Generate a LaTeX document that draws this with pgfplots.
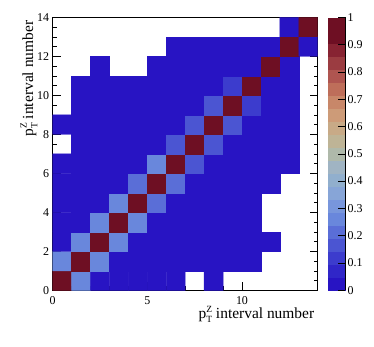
\documentclass[border=0pt]{standalone}
\usepackage{pgfplots}
\pgfplotsset{compat=1.18}
\usepackage{fontspec}
\setmainfont{Liberation Serif}
\newcommand{\ptz}{p\rlap{\raisebox{6.3bp}{\fontsize{9.5}{10}\selectfont Z}}\raisebox{-4.3bp}{\fontsize{9.5}{10}\selectfont T}}
\pgfplotsset{
  colormap={roottemp}{
    rgb255=(40,20,195) rgb255=(48,38,200) rgb255=(60,60,205) rgb255=(75,85,210)
    rgb255=(90,110,215) rgb255=(105,135,220) rgb255=(120,150,220) rgb255=(135,165,215)
    rgb255=(145,175,205) rgb255=(160,180,195) rgb255=(175,185,170) rgb255=(190,180,150)
    rgb255=(200,170,135) rgb255=(205,155,120) rgb255=(200,135,105) rgb255=(190,110,90)
    rgb255=(175,85,80) rgb255=(155,60,65) rgb255=(135,35,50) rgb255=(110,15,35)
    rgb255=(110,15,35)
  }
}
\begin{document}
\begin{tikzpicture}
\path[use as bounding box] (-52.7bp,-56bp) rectangle (321.3bp,290.3bp);
\begin{axis}[
  scale only axis, width=265bp, height=273bp,
  xmin=0, xmax=14, ymin=0, ymax=14,
  colormap name=roottemp, colormap access=piecewise constant,
  point meta min=0, point meta max=1,
  xtick={0,5,10}, minor x tick num=4,
  ytick={0,2,4,6,8,10,12,14}, minor y tick num=3,
  tick align=inside, xtick pos=left, ytick pos=both,
  major tick length=8bp, minor tick length=4bp,
  tick style={black, line width=0.5bp},
  axis line style={line width=0.7bp},
  /pgf/number format/assume math mode=true,
  tick label style={font=\fontsize{12}{14}\selectfont},
  xticklabel style={yshift=-2.5bp},
  label style={font=\fontsize{15.5}{18}\selectfont},
  xlabel={\ptz{} interval number},
  ylabel={\ptz{} interval number},
  xlabel style={at={(rel axis cs:1,-0.1037)}, anchor=base east},
  ylabel style={at={(rel axis cs:-0.0743,1)}, anchor=base east},
  colorbar,
  colorbar style={
    at={(parent axis.north east)}, anchor=north west, xshift=1.6bp,
    scale only axis, width=17.4bp, height=273bp,
    ymin=0, ymax=1,
    ytick={0,0.1,0.2,0.3,0.4,0.5,0.6,0.7,0.8,0.9,1},
    yticklabels={0,0.1,0.2,0.3,0.4,0.5,0.6,0.7,0.8,0.9,1},
    ytick pos=right, yticklabel pos=right, tick align=inside,
    major tick length=7bp,
    axis x line=none, axis y line*=right, axis line style={-},
    tick label style={font=\fontsize{12}{14}\selectfont},
    yticklabel style={xshift=-1bp},
  },
]
\addplot[matrix plot*, point meta=explicit, mesh/cols=14, unbounded coords=jump]
table[meta=c, row sep=\\] {
x y c\\
0.5 0.5 0.98\\ 1.5 0.5 0.27\\ 2.5 0.5 0.01\\ 3.5 0.5 0.01\\ 4.5 0.5 0.01\\ 5.5 0.5 0.01\\ 6.5 0.5 0.01\\ 7.5 0.5 nan\\ 8.5 0.5 0.01\\ 9.5 0.5 nan\\ 10.5 0.5 nan\\ 11.5 0.5 nan\\ 12.5 0.5 nan\\ 13.5 0.5 nan\\
0.5 1.5 0.27\\ 1.5 1.5 0.98\\ 2.5 1.5 0.27\\ 3.5 1.5 0.01\\ 4.5 1.5 0.01\\ 5.5 1.5 0.01\\ 6.5 1.5 0.01\\ 7.5 1.5 0.01\\ 8.5 1.5 0.01\\ 9.5 1.5 0.01\\ 10.5 1.5 0.01\\ 11.5 1.5 nan\\ 12.5 1.5 nan\\ 13.5 1.5 nan\\
0.5 2.5 0.01\\ 1.5 2.5 0.27\\ 2.5 2.5 0.98\\ 3.5 2.5 0.26\\ 4.5 2.5 0.01\\ 5.5 2.5 0.01\\ 6.5 2.5 0.01\\ 7.5 2.5 0.01\\ 8.5 2.5 0.01\\ 9.5 2.5 0.01\\ 10.5 2.5 0.01\\ 11.5 2.5 0.01\\ 12.5 2.5 nan\\ 13.5 2.5 nan\\
0.5 3.5 0.01\\ 1.5 3.5 0.01\\ 2.5 3.5 0.26\\ 3.5 3.5 0.98\\ 4.5 3.5 0.26\\ 5.5 3.5 0.01\\ 6.5 3.5 0.01\\ 7.5 3.5 0.01\\ 8.5 3.5 0.01\\ 9.5 3.5 0.01\\ 10.5 3.5 0.01\\ 11.5 3.5 nan\\ 12.5 3.5 nan\\ 13.5 3.5 nan\\
0.5 4.5 0.01\\ 1.5 4.5 0.01\\ 2.5 4.5 0.01\\ 3.5 4.5 0.26\\ 4.5 4.5 0.98\\ 5.5 4.5 0.21\\ 6.5 4.5 0.01\\ 7.5 4.5 0.01\\ 8.5 4.5 0.01\\ 9.5 4.5 0.01\\ 10.5 4.5 0.01\\ 11.5 4.5 nan\\ 12.5 4.5 nan\\ 13.5 4.5 nan\\
0.5 5.5 0.01\\ 1.5 5.5 0.01\\ 2.5 5.5 0.01\\ 3.5 5.5 0.01\\ 4.5 5.5 0.22\\ 5.5 5.5 0.98\\ 6.5 5.5 0.21\\ 7.5 5.5 0.01\\ 8.5 5.5 0.01\\ 9.5 5.5 0.01\\ 10.5 5.5 0.01\\ 11.5 5.5 0.01\\ 12.5 5.5 nan\\ 13.5 5.5 nan\\
0.5 6.5 0.01\\ 1.5 6.5 0.01\\ 2.5 6.5 0.01\\ 3.5 6.5 0.01\\ 4.5 6.5 0.01\\ 5.5 6.5 0.24\\ 6.5 6.5 0.98\\ 7.5 6.5 0.17\\ 8.5 6.5 0.01\\ 9.5 6.5 0.01\\ 10.5 6.5 0.01\\ 11.5 6.5 0.01\\ 12.5 6.5 0.01\\ 13.5 6.5 nan\\
0.5 7.5 nan\\ 1.5 7.5 0.01\\ 2.5 7.5 0.01\\ 3.5 7.5 0.01\\ 4.5 7.5 0.01\\ 5.5 7.5 0.01\\ 6.5 7.5 0.17\\ 7.5 7.5 0.98\\ 8.5 7.5 0.18\\ 9.5 7.5 0.01\\ 10.5 7.5 0.01\\ 11.5 7.5 0.01\\ 12.5 7.5 0.01\\ 13.5 7.5 nan\\
0.5 8.5 0.01\\ 1.5 8.5 0.01\\ 2.5 8.5 0.01\\ 3.5 8.5 0.01\\ 4.5 8.5 0.01\\ 5.5 8.5 0.01\\ 6.5 8.5 0.01\\ 7.5 8.5 0.17\\ 8.5 8.5 0.98\\ 9.5 8.5 0.18\\ 10.5 8.5 0.01\\ 11.5 8.5 0.01\\ 12.5 8.5 0.01\\ 13.5 8.5 nan\\
0.5 9.5 nan\\ 1.5 9.5 0.01\\ 2.5 9.5 0.01\\ 3.5 9.5 0.01\\ 4.5 9.5 0.01\\ 5.5 9.5 0.01\\ 6.5 9.5 0.01\\ 7.5 9.5 0.01\\ 8.5 9.5 0.18\\ 9.5 9.5 0.98\\ 10.5 9.5 0.12\\ 11.5 9.5 0.01\\ 12.5 9.5 0.01\\ 13.5 9.5 nan\\
0.5 10.5 nan\\ 1.5 10.5 0.01\\ 2.5 10.5 0.01\\ 3.5 10.5 0.01\\ 4.5 10.5 0.01\\ 5.5 10.5 0.01\\ 6.5 10.5 0.01\\ 7.5 10.5 0.01\\ 8.5 10.5 0.01\\ 9.5 10.5 0.13\\ 10.5 10.5 0.98\\ 11.5 10.5 0.01\\ 12.5 10.5 0.01\\ 13.5 10.5 nan\\
0.5 11.5 nan\\ 1.5 11.5 nan\\ 2.5 11.5 0.01\\ 3.5 11.5 nan\\ 4.5 11.5 nan\\ 5.5 11.5 0.01\\ 6.5 11.5 0.01\\ 7.5 11.5 0.01\\ 8.5 11.5 0.01\\ 9.5 11.5 0.01\\ 10.5 11.5 0.01\\ 11.5 11.5 0.98\\ 12.5 11.5 0.01\\ 13.5 11.5 nan\\
0.5 12.5 nan\\ 1.5 12.5 nan\\ 2.5 12.5 nan\\ 3.5 12.5 nan\\ 4.5 12.5 nan\\ 5.5 12.5 nan\\ 6.5 12.5 0.01\\ 7.5 12.5 0.01\\ 8.5 12.5 0.01\\ 9.5 12.5 0.01\\ 10.5 12.5 0.01\\ 11.5 12.5 0.01\\ 12.5 12.5 0.98\\ 13.5 12.5 0.01\\
0.5 13.5 nan\\ 1.5 13.5 nan\\ 2.5 13.5 nan\\ 3.5 13.5 nan\\ 4.5 13.5 nan\\ 5.5 13.5 nan\\ 6.5 13.5 nan\\ 7.5 13.5 nan\\ 8.5 13.5 nan\\ 9.5 13.5 nan\\ 10.5 13.5 nan\\ 11.5 13.5 nan\\ 12.5 13.5 0.01\\ 13.5 13.5 0.98\\
};
\end{axis}
\end{tikzpicture}
\end{document}
